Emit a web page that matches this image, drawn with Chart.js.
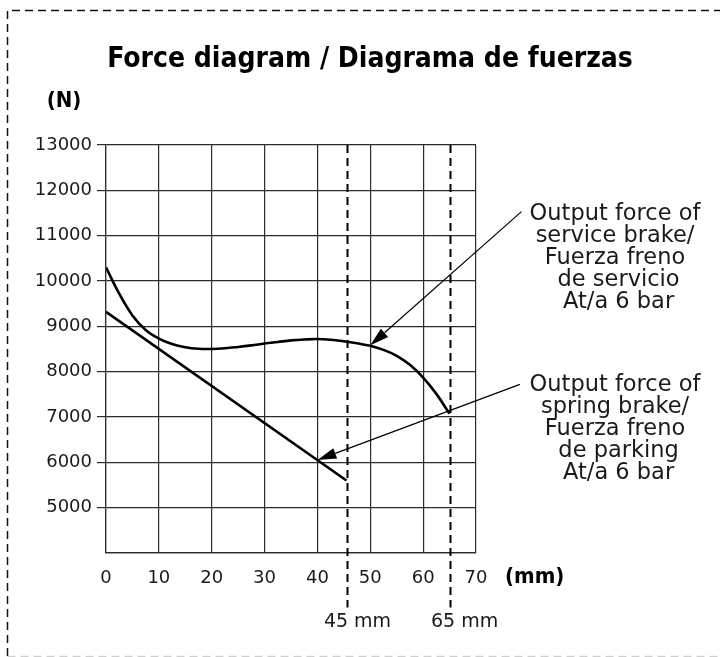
<!DOCTYPE html>
<html><head><meta charset="utf-8">
<script src="https://cdn.jsdelivr.net/npm/chart.js@4"></script>
<style>html,body{margin:0;padding:0;background:#fff}</style>
</head><body>
<canvas id="c" width="720" height="657"></canvas>
<script>
// ---- data ----
const serviceX = [0, 2.5, 5, 7.5, 10, 12.5, 15, 17.5, 20, 22.5, 25, 27.5, 30, 32.5, 35, 37.5, 40, 42.5, 45, 47.5, 50, 52.5, 55, 57.5, 60, 62.5, 65];
const serviceN = [10300, 9720, 9240, 8920, 8730, 8610, 8540, 8505, 8500, 8515, 8545, 8580, 8620, 8655, 8690, 8710, 8720, 8705, 8670, 8625, 8570, 8480, 8350, 8150, 7870, 7510, 7070];
const springX = [0, 45.5];
const springN = [9320, 5600];
const xTicks = [0, 10, 20, 30, 40, 50, 60, 70];
const yTicks = [5000, 6000, 7000, 8000, 9000, 10000, 11000, 12000, 13000];
const markerX = [45.5, 65];
const markerLabels = ['45 mm', '65 mm'];
const markerBottomN = 2800;
const titleText = 'Force diagram / Diagrama de fuerzas';
const yUnit = '(N)';
const xUnit = '(mm)';
const serviceNote = ['Output force of', 'service brake/', 'Fuerza freno', ' de servicio', ' At/a 6 bar'];
const springNote = ['Output force of', 'spring brake/', 'Fuerza freno', ' de parking', ' At/a 6 bar'];
const serviceArrow = {from: [78.6, 11530], to: [50, 8580]};
const springArrow = {from: [78.3, 7720], to: [40, 6050]};

const GRID = '#2b2b2b';
const TXT = '#1a1a1a';
const BODY = '"DejaVu Sans", sans-serif';
const BOLD = 'bold 28px "Liberation Sans Narrow", "DejaVu Sans Condensed", sans-serif';

function arrow(ctx, x1, y1, x2, y2) {
  const ang = Math.atan2(y2 - y1, x2 - x1);
  const L = 19, W = 5.5;
  const bx = x2 - L * Math.cos(ang), by = y2 - L * Math.sin(ang);
  ctx.beginPath();
  ctx.moveTo(x1, y1); ctx.lineTo(bx, by);
  ctx.lineWidth = 1.2; ctx.strokeStyle = '#000'; ctx.stroke();
  ctx.beginPath();
  ctx.moveTo(x2, y2);
  ctx.lineTo(bx + W * Math.sin(ang), by - W * Math.cos(ang));
  ctx.lineTo(bx - W * Math.sin(ang), by + W * Math.cos(ang));
  ctx.closePath(); ctx.fillStyle = '#000'; ctx.fill();
}

const decor = {
  id: 'decor',
  beforeDatasetsDraw(chart) {
    const {ctx, scales: {x, y}} = chart;
    ctx.save();
    ctx.setLineDash([8, 5]);
    ctx.lineWidth = 2; ctx.strokeStyle = '#000';
    markerX.forEach(v => {
      const px = Math.round(x.getPixelForValue(v)) + 0.5;
      ctx.beginPath();
      ctx.moveTo(px, y.getPixelForValue(13000));
      ctx.lineTo(px, y.getPixelForValue(markerBottomN));
      ctx.stroke();
    });
    ctx.restore();
  },
  afterDraw(chart) {
    const {ctx, scales: {x, y}} = chart;
    ctx.save();
    // dashed frame
    ctx.setLineDash([8, 5]);
    ctx.lineWidth = 1.5; ctx.strokeStyle = '#111';
    ctx.beginPath();
    ctx.moveTo(7.5, 656); ctx.lineTo(7.5, 10.5); ctx.lineTo(725, 10.5);
    ctx.stroke();
    ctx.strokeStyle = '#cfcfcf';
    ctx.beginPath(); ctx.moveTo(7.5, 656.5); ctx.lineTo(725, 656.5); ctx.stroke();
    ctx.setLineDash([]);
    // title
    ctx.fillStyle = '#000';
    ctx.font = BOLD;
    ctx.textAlign = 'center'; ctx.textBaseline = 'middle';
    ctx.fillText(titleText, 370, 60);
    ctx.font = BOLD.replace('28px', '22px');
    ctx.fillText(yUnit, 64, 101);
    ctx.textAlign = 'left';
    ctx.fillText(xUnit, 505, 577);
    // marker labels
    ctx.font = '19px ' + BODY; ctx.fillStyle = TXT;
    ctx.textAlign = 'center';
    const offs = [11, 15];
    markerX.forEach((v, i) => {
      ctx.fillText(markerLabels[i], x.getPixelForValue(v) + offs[i], 622);
    });
    // arrows
    [serviceArrow, springArrow].forEach(a => {
      arrow(ctx, x.getPixelForValue(a.from[0]), y.getPixelForValue(a.from[1]),
                 x.getPixelForValue(a.to[0]), y.getPixelForValue(a.to[1]));
    });
    // notes
    ctx.font = '22.5px ' + BODY; ctx.fillStyle = TXT;
    ctx.textAlign = 'center';
    serviceNote.forEach((t, i) => ctx.fillText(t, 615, 214 + i * 22));
    springNote.forEach((t, i) => ctx.fillText(t, 615, 385 + i * 22));
    ctx.restore();
  }
};

new Chart(document.getElementById('c'), {
  type: 'line',
  data: {
    datasets: [
      {label: 'service', data: serviceX.map((v, i) => ({x: v, y: serviceN[i]})),
       borderColor: '#000', borderWidth: 2.6, pointRadius: 0, tension: 0.4, fill: false},
      {label: 'spring', data: springX.map((v, i) => ({x: v, y: springN[i]})),
       borderColor: '#000', borderWidth: 2.6, pointRadius: 0, tension: 0, fill: false}
    ]
  },
  options: {
    responsive: false, animation: false, devicePixelRatio: 1,
    layout: {autoPadding: false, padding: {left: 0, top: 145, right: 244, bottom: 64}},
    plugins: {legend: {display: false}, title: {display: false}, tooltip: {enabled: false}},
    scales: {
      x: {
        type: 'linear', min: 0, max: 70,
        afterFit: s => { s.height = 40; },
        afterBuildTicks: s => { s.ticks = xTicks.map(v => ({value: v})); },
        ticks: {color: TXT, font: {family: BODY, size: 18}, padding: 15, maxRotation: 0},
        grid: {color: GRID, lineWidth: 1.2, drawTicks: false},
        border: {color: GRID, width: 1.2}
      },
      y: {
        type: 'linear', min: 4000, max: 13000,
        afterFit: s => { s.width = 106; },
        afterBuildTicks: s => { s.ticks = [4000].concat(yTicks).map(v => ({value: v})); },
        ticks: {color: TXT, font: {family: BODY, size: 18}, padding: 5,
                callback: v => (v === 4000 ? '' : String(v))},
        grid: {color: GRID, lineWidth: 1.2, tickLength: 9,
               tickColor: c => (c.tick && c.tick.value === 4000 ? 'rgba(0,0,0,0)' : GRID)},
        border: {color: GRID, width: 1.2}
      }
    }
  },
  plugins: [decor]
});
</script>
</body></html>
